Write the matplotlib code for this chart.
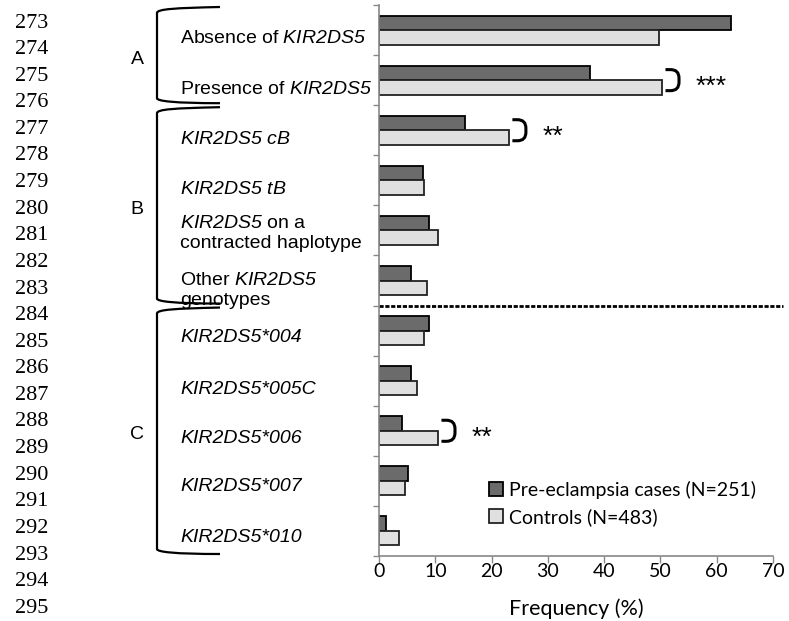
import matplotlib.pyplot as plt
import matplotlib.transforms as mtransforms
from matplotlib.path import Path
from matplotlib.patches import PathPatch
import numpy as np

# math parts are only used for the italic gene names
plt.rcParams['mathtext.fontset'] = 'custom'
plt.rcParams['mathtext.rm'] = 'Liberation Sans:italic'
plt.rcParams['mathtext.it'] = 'Liberation Sans:italic'

# ---- data ----
labels = [
    r"Absence of $\mathrm{KIR2DS5}$",
    r"Presence of $\mathrm{KIR2DS5}$",
    r"$\mathrm{KIR2DS5\ cB}$",
    r"$\mathrm{KIR2DS5\ tB}$",
    "$\\mathrm{KIR2DS5}$ on a\ncontracted haplotype",
    "Other $\\mathrm{KIR2DS5}$\ngenotypes",
    "KIR2DS5*004",
    "KIR2DS5*005C",
    "KIR2DS5*006",
    "KIR2DS5*007",
    "KIR2DS5*010",
]
cases = [62.6, 37.5, 15.2, 7.9, 8.8, 5.6, 8.8, 5.6, 4.0, 5.2, 1.2]
controls = [49.7, 50.3, 23.1, 8.0, 10.4, 8.6, 8.0, 6.8, 10.5, 4.7, 3.5]
italic_full = [False, False, False, False, False, False, True, True, True, True, True]
label_shift = [0.17, 0.19, 0.19, 0.19, 0.06, 0.2, 0.14, 0.17, 0.15, 0.12, 0.14]

groups = ["A", "B", "C"]
group_spans = [(0, 1), (2, 5), (6, 10)]

signif = {1: "***", 2: "**", 8: "**"}
line_numbers = list(range(273, 296))

W, H = 789, 621
fig = plt.figure(figsize=(W / 100, H / 100), dpi=100)
ax = fig.add_axes([379 / W, 1 - 556 / H, (773 - 379) / W, (556 - 5) / H])


def px(x, y):
    return (x / W, 1 - y / H)


y = np.arange(len(labels))
h = 0.29
ax.barh(y - h / 2, cases, height=h, color='#6b6b6b', edgecolor='black', linewidth=1.3,
        label='Pre-eclampsia cases (N=251)')
ax.barh(y + h / 2, controls, height=h, color='#e0e0e0', edgecolor='#222222', linewidth=1.3,
        label='Controls (N=483)')

ax.set_xlim(0, 70)
ax.set_ylim(len(labels) - 0.5, -0.5)
ax.set_xticks(range(0, 71, 10))
ax.set_yticks([])
ax.set_yticks(np.arange(-0.5, len(labels)), minor=True)
ax.tick_params(axis='y', which='minor', length=4, color='#888888', width=1)
ax.tick_params(axis='x', length=5, color='#888888', width=1, labelsize=14, pad=0)
for lab in ax.get_xticklabels():
    lab.set_fontfamily('Lato')
for s in ['top', 'right']:
    ax.spines[s].set_visible(False)
for s in ['left', 'bottom']:
    ax.spines[s].set_color('#888888')
    ax.spines[s].set_linewidth(1.2)

ax.set_xlabel('Frequency (%)', fontsize=15.5, fontfamily='Lato', labelpad=13)

# dotted separator between B and C
ax.plot([0, 71.8], [5.5, 5.5], color='black', lw=2, linestyle=(0, (1.5, 0.6)), clip_on=False)

# category labels
trans = mtransforms.blended_transform_factory(fig.transFigure, ax.transData)
for i, lab in enumerate(labels):
    ax.text(180 / W, i + label_shift[i], lab, transform=trans, ha='left', va='center',
            fontsize=14, fontfamily='Liberation Sans',
            style='italic' if italic_full[i] else 'normal', linespacing=1.25)

# group brackets and letters
for g, (a, b) in zip(groups, group_spans):
    _, ytop = ax.transData.transform((0, a - 0.5))
    _, ybot = ax.transData.transform((0, b + 0.5))
    ytop = H - ytop + 2
    ybot = H - ybot - 2
    verts = [px(220, ytop), px(175, ytop + 1), px(157, ytop + 2), px(157, ytop + 6),
             px(157, ybot - 5), px(157, ybot - 2), px(175, ybot), px(220, ybot)]
    codes = [Path.MOVETO, Path.CURVE4, Path.CURVE4, Path.CURVE4,
             Path.LINETO, Path.CURVE4, Path.CURVE4, Path.CURVE4]
    fig.patches.append(PathPatch(Path(verts, codes), fill=False, lw=1.6, color='black',
                                 transform=fig.transFigure))
    fig.text(137 / W, 1 - ((ytop + ybot) / 2 + 4) / H, g, fontsize=14,
             fontfamily='Liberation Sans', ha='center', va='center')

# significance brackets
for i, star in signif.items():
    x0 = max(cases[i], controls[i]) + 0.6
    t, b = i - 0.21, i + 0.21
    verts = [(x0, t), (x0 + 0.9, t), (x0 + 2.4, t), (x0 + 2.4, t + 0.17),
             (x0 + 2.4, b - 0.17), (x0 + 2.4, b), (x0 + 0.9, b), (x0, b)]
    codes = [Path.MOVETO, Path.LINETO, Path.CURVE3, Path.CURVE3,
             Path.LINETO, Path.CURVE3, Path.CURVE3, Path.LINETO]
    ax.add_patch(PathPatch(Path(verts, codes), fill=False, lw=2.2, color='black',
                           clip_on=False, capstyle='butt'))
    ax.text(x0 + 5.3, i + 0.14, star, fontsize=19, fontfamily='Liberation Sans',
            ha='left', va='center')

# legend
ax.legend(loc='upper left', bbox_to_anchor=px(489, 481), bbox_transform=fig.transFigure,
          frameon=False, prop={'family': 'Lato', 'size': 14}, handlelength=0.7,
          handleheight=0.7, handletextpad=0.35, borderaxespad=0, borderpad=0,
          labelspacing=0.45)

# manuscript line numbers
for k, n in enumerate(line_numbers):
    fig.text(15 / W, 1 - (23 + k * 26.6) / H, str(n), fontsize=16,
             fontfamily='Liberation Serif', ha='left', va='center')

fig.savefig('out.png', dpi=100)
